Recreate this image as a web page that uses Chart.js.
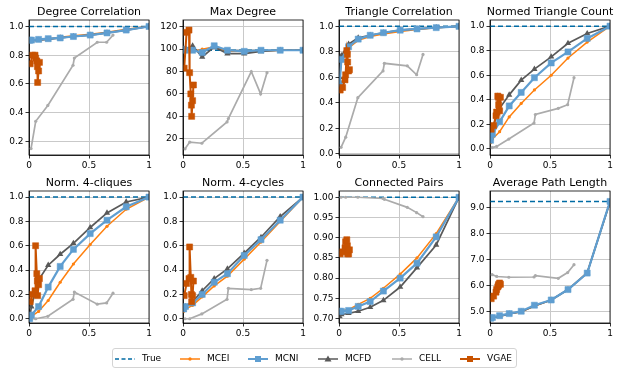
<!DOCTYPE html>
<html lang="en">
<head>
<meta charset="UTF-8" />
<title>Graph statistics vs. fraction</title>
<script src="https://cdn.jsdelivr.net/npm/chart.js@4"></script>
<style>
  body { margin: 0; background: #fff; }
  #fig { position: relative; width: 622px; height: 375px; font-family: "DejaVu Sans", sans-serif; overflow: hidden; }
  #fig canvas { position: absolute; }
  .legend { position: absolute; left: 112px; top: 348px; width: 405px; height: 20px; border: 1px solid #d4d4d4; border-radius: 3px; box-sizing: border-box; }
  .item { position: absolute; top: 353px; font-size: 9px; line-height: 11px; color: #000; }
  .item svg { position: absolute; top: 0; }
</style>
</head>
<body>
<div id="fig"></div>

<script>
// panel titles
const titles = ["Degree Correlation", "Max Degree", "Triangle Correlation", "Normed Triangle Count",
                "Norm. 4-cliques", "Norm. 4-cycles", "Connected Pairs", "Average Path Length"];

// x positions of each method
const mcX = [0.005, 0.02, 0.08, 0.16, 0.26, 0.37, 0.51, 0.65, 0.81, 1.0];
const cellX = [0.017, 0.056, 0.157, 0.367, 0.378, 0.569, 0.647, 0.70];
const vgaeX = [0.01, 0.03, 0.05, 0.055, 0.065, 0.07, 0.072, 0.08, 0.087];

// ground truth per panel
const trueVals = [1, 99, 1, 1, 1, 1, 1, 9.22];

// one row per panel
const mcei = [
  [0.90, 0.905, 0.91, 0.915, 0.925, 0.935, 0.945, 0.96, 0.98, 1.0],
  [98, 100, 98, 100, 102, 98, 98, 98, 99, 99],
  [0.58, 0.73, 0.83, 0.89, 0.92, 0.94, 0.96, 0.975, 0.99, 1.0],
  [0.05, 0.08, 0.14, 0.26, 0.37, 0.48, 0.60, 0.74, 0.87, 1.0],
  [0.0, 0.02, 0.06, 0.15, 0.30, 0.45, 0.61, 0.76, 0.90, 1.0],
  [0.06, 0.08, 0.11, 0.18, 0.27, 0.35, 0.49, 0.63, 0.80, 1.0],
  [0.72, 0.72, 0.722, 0.735, 0.75, 0.775, 0.81, 0.85, 0.91, 1.0],
  [4.74, 4.77, 4.83, 4.92, 5.0, 5.22, 5.45, 5.85, 6.5, 9.2]
];
const mcni = [
  [0.905, 0.905, 0.91, 0.915, 0.92, 0.93, 0.94, 0.955, 0.975, 1.0],
  [100, 99, 99, 97, 103, 99, 98, 99, 99, 99],
  [0.55, 0.74, 0.84, 0.90, 0.93, 0.95, 0.97, 0.98, 0.99, 1.0],
  [0.07, 0.12, 0.22, 0.35, 0.46, 0.58, 0.70, 0.79, 0.90, 1.0],
  [0.0, 0.03, 0.10, 0.26, 0.43, 0.57, 0.70, 0.81, 0.92, 1.0],
  [0.08, 0.10, 0.13, 0.20, 0.30, 0.37, 0.52, 0.65, 0.81, 1.0],
  [0.718, 0.718, 0.72, 0.73, 0.742, 0.768, 0.80, 0.837, 0.902, 1.0],
  [4.75, 4.78, 4.85, 4.93, 5.02, 5.25, 5.45, 5.85, 6.48, 9.22]
];
const mcfd = [
  [0.895, 0.90, 0.905, 0.91, 0.92, 0.93, 0.94, 0.955, 0.975, 1.0],
  [100, 100, 103, 93, 102, 96, 96, 98, 99, 99],
  [0.60, 0.77, 0.86, 0.91, 0.93, 0.95, 0.97, 0.98, 0.99, 1.0],
  [0.10, 0.17, 0.33, 0.44, 0.56, 0.65, 0.75, 0.86, 0.94, 1.0],
  [0.0, 0.10, 0.32, 0.44, 0.53, 0.62, 0.75, 0.87, 0.96, 1.0],
  [0.07, 0.10, 0.14, 0.23, 0.33, 0.41, 0.54, 0.67, 0.84, 1.0],
  [0.705, 0.71, 0.713, 0.718, 0.728, 0.745, 0.778, 0.826, 0.882, 1.0],
  [4.73, 4.76, 4.82, 4.92, 5.0, 5.22, 5.45, 5.85, 6.48, 9.2]
];
const cell = [
  [0.15, 0.34, 0.45, 0.73, 0.78, 0.89, 0.89, 0.94],
  [11, 17, 16, 35, 38, 80, 60, 79],
  [0.05, 0.13, 0.44, 0.65, 0.71, 0.69, 0.62, 0.78],
  [0.01, 0.02, 0.08, 0.21, 0.28, 0.33, 0.36, 0.58],
  [0.0, 0.0, 0.02, 0.16, 0.22, 0.12, 0.13, 0.21],
  [0.0, 0.0, 0.04, 0.16, 0.25, 0.24, 0.25, 0.48],
  [1.0, 1.0, 1.0, 0.997, 0.995, 0.975, 0.962, 0.952],
  [6.42, 6.35, 6.32, 6.33, 6.38, 6.28, 6.5, 6.8]
];
const vgae = [
  [0.74, 0.80, 0.80, 0.78, 0.76, 0.72, 0.61, 0.69, 0.75],
  [83, 115, 117, 79, 60, 50, 40, 54, 68],
  [0.50, 0.52, 0.58, 0.62, 0.81, 0.78, 0.72, 0.65, 0.66],
  [0.16, 0.19, 0.27, 0.30, 0.43, 0.42, 0.36, 0.31, 0.42],
  [0.14, 0.20, 0.23, 0.60, 0.37, 0.31, 0.19, 0.28, 0.33],
  [0.19, 0.29, 0.33, 0.59, 0.34, 0.20, 0.14, 0.19, 0.31],
  [0.86, 0.865, 0.875, 0.89, 0.895, 0.88, 0.86, 0.86, 0.87],
  [5.5, 5.6, 5.75, 5.85, 5.95, 6.0, 6.05, 6.1, 6.05]
];

// axis ticks and ranges
const xTicks = [0, 0.5, 1];
const yTicks = [
  [0.2, 0.4, 0.6, 0.8, 1.0],
  [20, 40, 60, 80, 100, 120],
  [0, 0.2, 0.4, 0.6, 0.8, 1.0],
  [0, 0.2, 0.4, 0.6, 0.8, 1.0],
  [0, 0.2, 0.4, 0.6, 0.8, 1.0],
  [0, 0.2, 0.4, 0.6, 0.8, 1.0],
  [0.70, 0.75, 0.80, 0.85, 0.90, 0.95, 1.00],
  [5, 6, 7, 8, 9]
];
const yDecimals = [1, 0, 1, 1, 1, 1, 2, 1];
const yMin = [0.105, 5.5, -0.01, -0.05, -0.035, -0.035, 0.689, 4.57];
const yMax = [1.045, 126, 1.05, 1.05, 1.05, 1.05, 1.0155, 9.62];

// plot-area placement
const plotLeft = [29, 183, 339, 490];
const plotTop = [20, 191];
const plotH = [135, 132];
const plotW = 120;
const PAD_TOP = 22, YW = 34, XH = 18, PAD_R = 8;

const C = { true: "#006BA4", mcei: "#FF800E", mcni: "#5F9ED1", mcfd: "#595959", cell: "#ABABAB", vgae: "#C85200" };

const pts = (xs, ys) => xs.map((x, k) => ({ x: x, y: ys[k] }));

// frame around the axes + title text
const framePlugin = {
  id: "frame",
  afterDraw(chart, args, opts) {
    const a = chart.chartArea, ctx = chart.ctx;
    ctx.save();
    ctx.strokeStyle = "#000";
    ctx.lineWidth = 0.8;
    ctx.strokeRect(a.left, a.top, a.right - a.left, a.bottom - a.top);
    ctx.fillStyle = "#000";
    ctx.font = '11px "DejaVu Sans"';
    ctx.textAlign = "center";
    ctx.textBaseline = "alphabetic";
    ctx.fillText(opts.text, (a.left + a.right) / 2, a.top - 5);
    ctx.restore();
  }
};

const fig = document.getElementById("fig");

for (let i = 0; i < 8; i++) {
  const row = Math.floor(i / 4), col = i % 4;
  const W = plotW + YW + PAD_R, H = plotH[row] + PAD_TOP + XH;
  const cv = document.createElement("canvas");
  cv.width = W; cv.height = H;
  cv.style.width = W + "px"; cv.style.height = H + "px";
  cv.style.left = (plotLeft[col] - YW) + "px";
  cv.style.top = (plotTop[row] - PAD_TOP) + "px";
  fig.appendChild(cv);

  const line = (label, color, data, extra) => Object.assign({
    label: label, data: data, showLine: true, borderColor: color, backgroundColor: color,
    borderWidth: 1.5, pointRadius: 1.6, pointBorderWidth: 0, pointHoverRadius: 0
  }, extra || {});

  // first dataset is drawn on top
  const datasets = [
    line("VGAE", C.vgae, pts(vgaeX, vgae[i]), { pointStyle: "rect", pointRadius: 4.3, borderWidth: 2, pointBorderWidth: 0.5 }),
    line("MCNI", C.mcni, pts(mcX, mcni[i]), { pointStyle: "rect", pointRadius: 4.3, borderWidth: 2.2, pointBorderWidth: 0.5 }),
    line("MCFD", C.mcfd, pts(mcX, mcfd[i]), { pointStyle: "triangle", pointRadius: 3.6, borderWidth: 1.7 }),
    line("MCEI", C.mcei, pts(mcX, mcei[i]), {}),
    line("CELL", C.cell, pts(cellX, cell[i]), { borderWidth: 1.7 }),
    line("True", C.true, [{ x: 0, y: trueVals[i] }, { x: 1, y: trueVals[i] }], { borderDash: [5, 3], pointRadius: 0 })
  ];

  const tickFont = { family: "DejaVu Sans", size: 9 };
  const grid = { color: "#c9c9c9", lineWidth: 1, tickColor: "#000", tickLength: 3.5, tickWidth: 0.8 };

  new Chart(cv, {
    type: "scatter",
    data: { datasets: datasets },
    options: {
      responsive: false,
      devicePixelRatio: 1,
      animation: false,
      layout: { padding: { top: PAD_TOP, right: PAD_R, left: 0, bottom: 0 } },
      plugins: { legend: { display: false }, tooltip: { enabled: false }, frame: { text: titles[i] } },
      scales: {
        x: {
          type: "linear", min: 0, max: 1,
          afterBuildTicks: s => { s.ticks = xTicks.map(v => ({ value: v })); },
          afterFit: s => { s.height = XH; },
          ticks: { font: tickFont, color: "#000", padding: 2, maxRotation: 0, callback: v => String(v) },
          grid: grid,
          border: { display: true, color: "#000", width: 0.8 }
        },
        y: {
          type: "linear", min: yMin[i], max: yMax[i],
          afterBuildTicks: s => { s.ticks = yTicks[i].map(v => ({ value: v })); },
          afterFit: s => { s.width = YW; },
          ticks: { font: tickFont, color: "#000", padding: 2, callback: v => Number(v).toFixed(yDecimals[i]) },
          grid: grid,
          border: { display: true, color: "#000", width: 0.8 }
        }
      }
    },
    plugins: [framePlugin]
  });
}

// legend (html text with small svg glyphs)
const legendItems = [
  { label: "True", color: C.true, marker: "none", dash: true, left: 115 },
  { label: "MCEI", color: C.mcei, marker: "dot", left: 180 },
  { label: "MCNI", color: C.mcni, marker: "square", left: 248 },
  { label: "MCFD", color: C.mcfd, marker: "triangle", left: 318 },
  { label: "CELL", color: C.cell, marker: "dot", left: 392 },
  { label: "VGAE", color: C.vgae, marker: "square", left: 460 }
];
const box = document.createElement("div");
box.className = "legend";
fig.appendChild(box);
legendItems.forEach(it => {
  const el = document.createElement("div");
  el.className = "item";
  el.style.left = it.left + "px";
  let mk = "";
  if (it.marker === "dot") mk = `<circle cx="10" cy="6" r="1.7" fill="${it.color}"/>`;
  if (it.marker === "square") mk = `<rect x="7" y="3" width="6" height="6" fill="${it.color}"/>`;
  if (it.marker === "triangle") mk = `<polygon points="10,2.5 13.5,8.5 6.5,8.5" fill="${it.color}"/>`;
  el.innerHTML = `<svg width="20" height="12" style="left:0">` +
    `<line x1="0" y1="6" x2="20" y2="6" stroke="${it.color}" stroke-width="${it.marker === 'square' ? 2 : 1.5}"` +
    (it.dash ? ` stroke-dasharray="4,2.5"` : "") + `/>` + mk + `</svg>` +
    `<span style="position:absolute; left:27px; top:0; white-space:nowrap">${it.label}</span>`;
  fig.appendChild(el);
});
</script>
</body>
</html>
